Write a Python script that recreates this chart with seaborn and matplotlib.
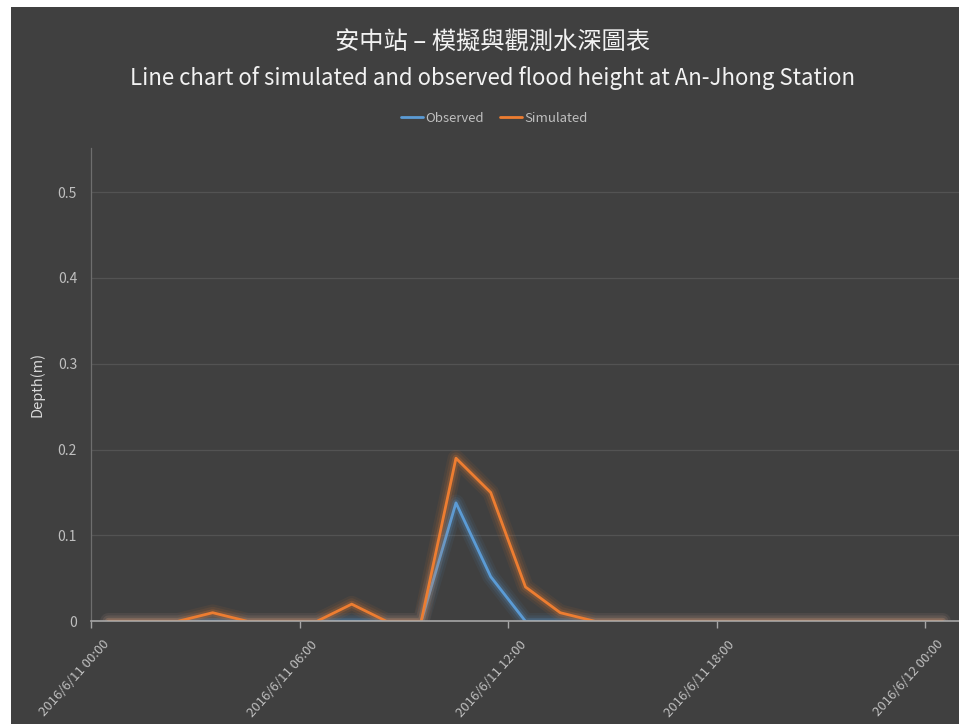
import pandas as pd
import matplotlib
matplotlib.use("Agg")
import matplotlib.pyplot as plt
import matplotlib.patheffects as pe
import matplotlib.transforms as mtransforms
from matplotlib.patches import Rectangle
import seaborn as sns

# 數據 (每小時一筆)
hours = list(range(25))
observed = [0, 0, 0, 0, 0, 0, 0, 0, 0, 0, 0.138, 0.052, 0,
            0, 0, 0, 0, 0, 0, 0, 0, 0, 0, 0, 0]
simulated = [0, 0, 0, 0.01, 0, 0, 0, 0.02, 0, 0, 0.19, 0.15, 0.04,
             0.01, 0, 0, 0, 0, 0, 0, 0, 0, 0, 0, 0]
tick_hours = [0, 6, 12, 18, 24]
tick_labels = ["2016/6/11 00:00", "2016/6/11 06:00", "2016/6/11 12:00",
               "2016/6/11 18:00", "2016/6/12 00:00"]
y_ticks = [0, 0.1, 0.2, 0.3, 0.4, 0.5]
y_labels = ["0", "0.1", "0.2", "0.3", "0.4", "0.5"]

df = pd.concat([
    pd.DataFrame({"hour": hours, "depth": observed, "series": "Observed"}),
    pd.DataFrame({"hour": hours, "depth": simulated, "series": "Simulated"}),
])

BG = "#404040"
colors = {"Observed": "#5B9BD5", "Simulated": "#ED7D31"}

sns.set_theme(style="dark")
plt.rcParams["font.family"] = ["Noto Sans CJK TC", "DejaVu Sans"]

fig = plt.figure(figsize=(9.59, 7.24), dpi=100, facecolor="white")
# 深灰色圖表區
fig.patches.append(Rectangle((11 / 959, 0), 1, 1 - 7 / 724, transform=fig.transFigure,
                             facecolor=BG, edgecolor="none", zorder=-10))

ax = fig.add_axes([91 / 959, 1 - 621.3 / 724, 1 - 91 / 959 + 0.001, (621.3 - 148.3) / 724])
ax.set_facecolor(BG)

sns.lineplot(data=df, x="hour", y="depth", hue="series",
             hue_order=["Observed", "Simulated"], palette=colors,
             linewidth=2.0, ax=ax, legend=False)

# 光暈效果
for line in ax.get_lines():
    c = line.get_color()
    line.set_path_effects([
        pe.Stroke(linewidth=12, foreground=c, alpha=0.07),
        pe.Stroke(linewidth=8.5, foreground=c, alpha=0.1),
        pe.Stroke(linewidth=5, foreground=c, alpha=0.2),
        pe.Normal(),
    ])

ax.set_xlim(-0.5, 24.5)
ax.set_ylim(0, 0.551)
tick_pos = [h - 0.5 for h in tick_hours]
ax.set_xticks(tick_pos)
ax.set_xticklabels([])
# 斜向時間標籤
trans = ax.get_xaxis_transform() + mtransforms.ScaledTranslation(16 / 100, -21 / 100,
                                                                 fig.dpi_scale_trans)
for p, lab in zip(tick_pos, tick_labels):
    ax.text(p, 0, lab, transform=trans, rotation=48, ha="right", va="center",
            rotation_mode="anchor", color="#BFBFBF", fontsize=9.5, clip_on=False)

ax.set_yticks(y_ticks)
ax.set_yticklabels(y_labels, color="#BFBFBF", fontsize=10)

ax.tick_params(axis="x", bottom=True, length=5, width=1, color="#A6A6A6", pad=2)
ax.tick_params(axis="y", left=False, length=0, pad=10)
ax.grid(axis="y", color="#535353", linewidth=0.9)
ax.grid(axis="x", visible=False)
for s in ["top", "right"]:
    ax.spines[s].set_visible(False)
ax.spines["left"].set_color("#6E6E6E")
ax.spines["left"].set_linewidth(0.9)
ax.spines["bottom"].set_color("#A6A6A6")
ax.spines["bottom"].set_linewidth(1.2)

ax.set_xlabel("")
ax.set_ylabel("Depth(m)", color="#D9D9D9", fontsize=10.5)
ax.yaxis.set_label_coords(-(91 - 44) / 869, 0.5)

fig.text(492 / 959, 1 - 42 / 724, "安中站 – 模擬與觀測水深圖表",
         ha="center", va="center", color="#F2F2F2", fontsize=17.5)
fig.text(492 / 959, 1 - 78 / 724,
         "Line chart of simulated and observed flood height at An-Jhong Station",
         ha="center", va="center", color="#F2F2F2", fontsize=16)

handles = [plt.Line2D([], [], color=colors[k], linewidth=2) for k in ["Observed", "Simulated"]]
leg = fig.legend(handles, ["Observed", "Simulated"], loc="center", ncol=2,
                 bbox_to_anchor=(494 / 959, 1 - 118 / 724), frameon=False,
                 fontsize=9.5, handlelength=1.7, handletextpad=0.15, columnspacing=1.2)
for t in leg.get_texts():
    t.set_color("#BFBFBF")

fig.savefig("out.png", dpi=100, facecolor=fig.get_facecolor())
